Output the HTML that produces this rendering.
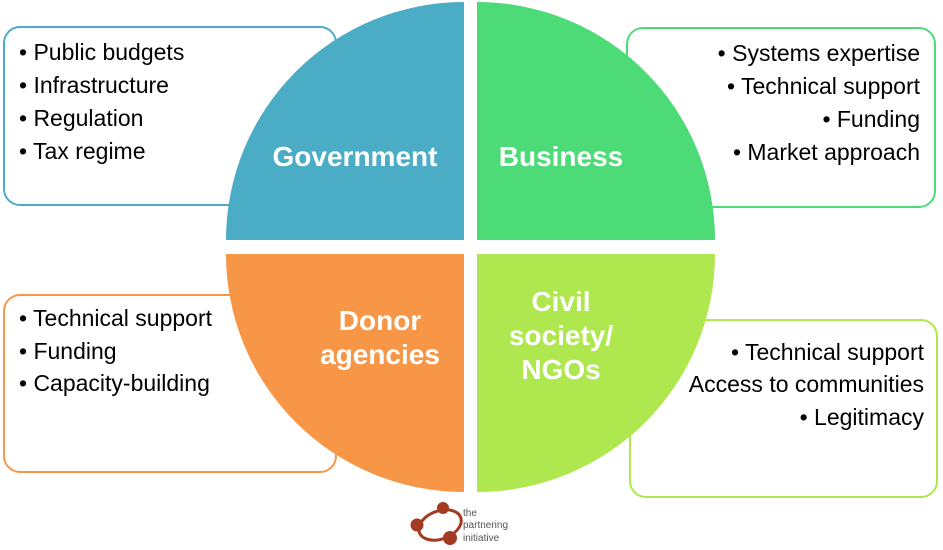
<!DOCTYPE html>
<html><head><style>
body{margin:0;background:#fff;}
svg{display:block;font-family:"Liberation Sans",sans-serif;}
</style></head><body>
<svg width="943" height="550" viewBox="0 0 943 550">
<rect x="4" y="27" width="332" height="178" rx="16" fill="#fff" stroke="#4bacc6" stroke-width="2"/>
<rect x="627" y="28" width="308" height="179" rx="16" fill="#fff" stroke="#4ddb78" stroke-width="2"/>
<rect x="4" y="295" width="332" height="177" rx="16" fill="#fff" stroke="#f79646" stroke-width="2"/>
<rect x="630" y="320" width="307" height="177" rx="16" fill="#fff" stroke="#aee84e" stroke-width="2"/>
<path d="M464 240 L226 240 A238 238 0 0 1 464 2 Z" fill="#4bacc6"/>
<path d="M477 240 L477 2 A238 238 0 0 1 715 240 Z" fill="#4ddb78"/>
<path d="M464 254 L464 492 A238 238 0 0 1 226 254 Z" fill="#f79646"/>
<path d="M477 254 L715 254 A238 238 0 0 1 477 492 Z" fill="#aee84e"/>
<g font-size="23" fill="#000">
<text x="19" y="60">• Public budgets</text>
<text x="19" y="93">• Infrastructure</text>
<text x="19" y="126">• Regulation</text>
<text x="19" y="159">• Tax regime</text>
<g text-anchor="end">
<text x="920" y="61">• Systems expertise</text>
<text x="920" y="94">• Technical support</text>
<text x="920" y="127">• Funding</text>
<text x="920" y="160">• Market approach</text>
<text x="924" y="360">• Technical support</text>
<text x="924" y="392">Access to communities</text>
<text x="924" y="425">• Legitimacy</text>
</g>
<text x="19" y="326">• Technical support</text>
<text x="19" y="359">• Funding</text>
<text x="19" y="391">• Capacity-building</text>
</g>
<g font-size="28" font-weight="bold" fill="#fff" text-anchor="middle">
<text x="355" y="166">Government</text>
<text x="561" y="166">Business</text>
<text x="380" y="330">Donor</text>
<text x="380" y="364">agencies</text>
<text x="561" y="311">Civil</text>
<text x="561" y="345">society/</text>
<text x="561" y="379">NGOs</text>
</g>
<g>
<ellipse cx="440" cy="525" rx="22" ry="14" fill="none" stroke="#a33a22" stroke-width="3" transform="rotate(-20 440 525)"/>
<circle cx="443" cy="508" r="6" fill="#a33a22"/>
<circle cx="417" cy="525" r="6.5" fill="#a33a22"/>
<circle cx="450" cy="538" r="7" fill="#a33a22"/>
</g>
<g font-size="10" fill="#555">
<text x="463" y="516">the</text>
<text x="463" y="528">partnering</text>
<text x="463" y="541">initiative</text>
</g>
</svg>
</body></html>
